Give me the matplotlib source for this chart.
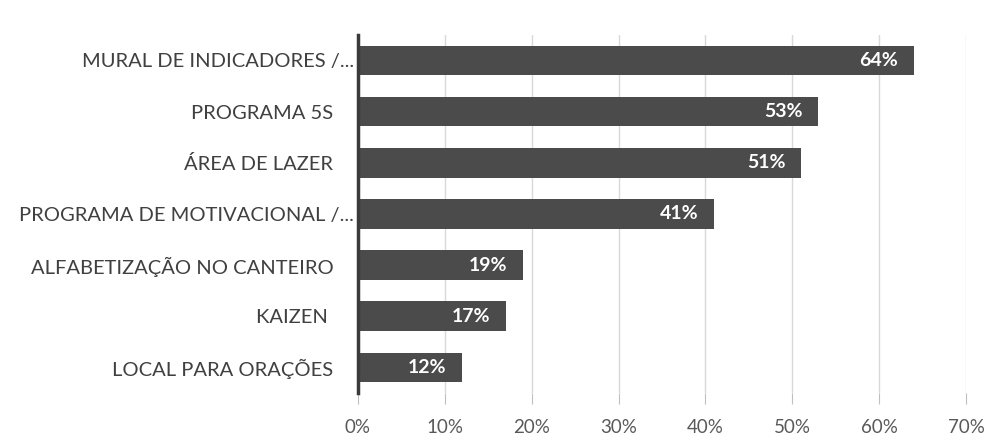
import matplotlib
matplotlib.use("Agg")
import matplotlib.pyplot as plt
from matplotlib.ticker import FuncFormatter

categories = [
    "MURAL DE INDICADORES /...",
    "PROGRAMA 5S    ",
    "ÁREA DE LAZER    ",
    "PROGRAMA DE MOTIVACIONAL /...",
    "ALFABETIZAÇÃO NO CANTEIRO    ",
    "KAIZEN     ",
    "LOCAL PARA ORAÇÕES    ",
]
values = [64, 53, 51, 41, 19, 17, 12]
x_ticks = [0, 10, 20, 30, 40, 50, 60, 70]

plt.rcParams["font.family"] = ["Lato", "DejaVu Sans"]

fig = plt.figure(figsize=(10.01, 4.42), dpi=100)
ax = fig.add_axes([0.3576, 0.111, 0.6074, 0.81])

bar_color = "#4b4b4b"
pos = list(range(len(categories)))
ax.barh(pos, values, height=0.58, color=bar_color, zorder=3)

for p, v in zip(pos, values):
    ax.text(v - 1.8, p, f"{v}%", ha="right", va="center", color="white",
            fontsize=14, fontweight="bold", zorder=4)

ax.set_ylim(len(categories) - 0.5, -0.5)
ax.set_xlim(0, 70)
ax.set_yticks(pos)
ax.set_yticklabels(categories, fontsize=14.5, color="#404040")
ax.set_xticks(x_ticks)
ax.xaxis.set_major_formatter(FuncFormatter(lambda x, _: f"{int(x)}%"))
ax.tick_params(axis="x", labelsize=13.5, colors="#595959", length=8,
               color="#bfbfbf", pad=11)
ax.tick_params(axis="y", length=0, pad=3)

ax.grid(axis="x", color="#d9d9d9", linewidth=1, zorder=0)
for s in ["top", "right", "bottom"]:
    ax.spines[s].set_visible(False)
ax.spines["left"].set_color("#3a3a3a")
ax.spines["left"].set_linewidth(2.5)
ax.spines["left"].set_zorder(5)

fig.savefig("out.png", dpi=100, facecolor="white")
